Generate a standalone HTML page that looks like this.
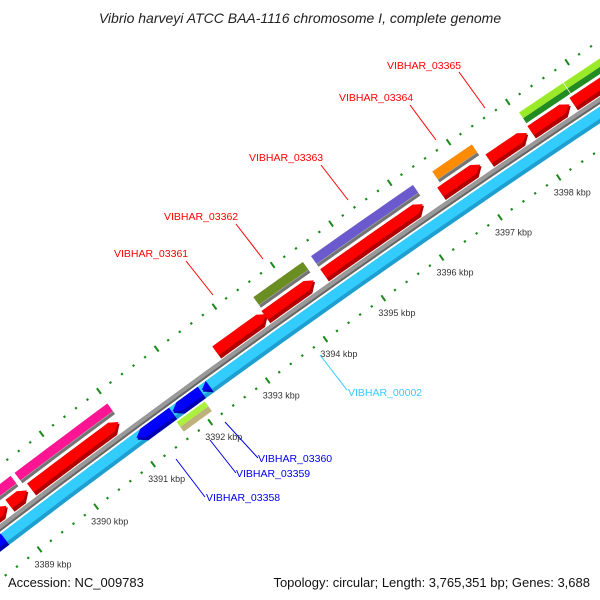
<!DOCTYPE html>
<html><head><meta charset="utf-8"><style>
html,body{margin:0;padding:0;background:#fff;width:600px;height:600px;overflow:hidden;}
svg{display:block;font-family:"Liberation Sans",sans-serif;overflow:hidden;}
</style></head><body>
<svg id="map" width="600" height="600" viewBox="0 0 600 600">
<rect width="600" height="600" fill="#fff"/>
<text x="300" y="23" text-anchor="middle" font-size="14" font-style="italic" fill="#222">Vibrio harveyi ATCC BAA-1116 chromosome I, complete genome</text>
<g id="ticks"></g><g id="bands"></g><g id="labels"></g>
<text x="8" y="587" font-size="13" fill="#111">Accession: NC_009783</text>
<text x="590" y="587" font-size="13" text-anchor="end" fill="#111">Topology: circular; Length: 3,765,351 bp; Genes: 3,688</text>
</svg>
<script>
// ---- data ----
const tickStart = 3388000;
const tickEnd = 3400000;
const tickLabels = ["3389 kbp","3390 kbp","3391 kbp","3392 kbp","3393 kbp","3394 kbp","3395 kbp","3396 kbp","3397 kbp","3398 kbp"];
const tickLabelBp = [3389000,3390000,3391000,3392000,3393000,3394000,3395000,3396000,3397000,3398000];
// forward (red) row
const redStarts = [3387500,3389040,3389420,3392650,3393500,3394510,3396510,3397330,3398040,3398750];
const redEnds   = [3389000,3389360,3390960,3393530,3394345,3396210,3397190,3397980,3398700,3400500];
// outer feature row
const outerStarts = [3387500,3389370,3393520,3394510,3396580];
const outerEnds   = [3389300,3390990,3394370,3396250,3397250];
const outerColors = ["#ff1493","#ff1493","#6b8e23","#6a5acd","#ff8c00"];
const greenStarts = [3398050,3398800];
const greenEnds   = [3398790,3400500];
// reverse (blue) genes on VIBHAR_00002 band
const blueStarts = [3388300,3391030,3391660,3392170];
const blueEnds   = [3388700,3391650,3392150,3392290];
const lowStart = 3391620, lowEnd = 3392110;

// ---- geometry ----
const CX=6967, CY=9671, R0=11495;
function ang(bp){return (-126.15 + (bp-3392000)/1000*0.355)*Math.PI/180;}
function pt(bp,r){const a=ang(bp);return [CX+r*Math.cos(a), CY+r*Math.sin(a)];}
const NS="http://www.w3.org/2000/svg";
function poly(pts){return "M"+pts.map(p=>p[0].toFixed(2)+","+p[1].toFixed(2)).join("L")+"Z";}
function arcPts(b1,b2,r){const n=12,out=[];for(let i=0;i<=n;i++)out.push(pt(b1+(b2-b1)*i/n,r));return out;}
function band(b1,b2,rIn,rOut,head){
  const H=120; const rm=(rIn+rOut)/2;
  let pts=[];
  if(head===1){const e=Math.max(b1,b2-H);
    pts=arcPts(b1,e,rOut).concat([pt(b2,rm)]).concat(arcPts(b1,e,rIn).reverse());}
  else if(head===-1){const s=Math.min(b2,b1+H);
    pts=[pt(b1,rm)].concat(arcPts(s,b2,rOut)).concat(arcPts(s,b2,rIn).reverse());}
  else pts=arcPts(b1,b2,rOut).concat(arcPts(b1,b2,rIn).reverse());
  return poly(pts);
}
function addPath(g,d,fill,name){const p=document.createElementNS(NS,"path");p.setAttribute("d",d);p.setAttribute("fill",fill);
  
  
  g.appendChild(p);return p;}
function shaded(g,b1,b2,rIn,rOut,head,fill,dark,name){
  addPath(g,band(b1,b2,rIn,rOut,head),dark,name);
  addPath(g,band(b1,b2,rIn+(rOut-rIn)*0.28,rOut,head),fill,name+"-face");
}
const bands=document.getElementById("bands"), ticks=document.getElementById("ticks"), labels=document.getElementById("labels");

for(let bp=tickStart;bp<=tickEnd;bp+=200){
  const major=bp%1000===0;
  [R0-41,R0+50].forEach((r,k)=>{
    const len=major?7:2.2;
    const a=pt(bp,r-len/2), b=pt(bp,r+len/2);
    const l=document.createElementNS(NS,"line");
    l.setAttribute("x1",a[0]);l.setAttribute("y1",a[1]);l.setAttribute("x2",b[0]);l.setAttribute("y2",b[1]);
    l.setAttribute("stroke","#1b8a1b");l.setAttribute("stroke-width",major?2:2.2);
    
    
    ticks.appendChild(l);
  });
}
tickLabelBp.forEach((bp,i)=>{
  const p=pt(bp,R0-41);
  const t=document.createElementNS(NS,"text");
  t.setAttribute("x",p[0]-5);t.setAttribute("y",p[1]+18);t.setAttribute("font-size","9");t.setAttribute("fill","#333");
  t.textContent=tickLabels[i];
  
  
  ticks.appendChild(t);
});

addPath(bands,band(3386000,3401000,R0-3,R0+3,0),"#666","backbone");
addPath(bands,band(3386000,3401000,R0-1,R0+3,0),"#999","backbone-face");
shaded(bands,3386000,3401000,R0-19,R0-5,0,"#33ccff","#1f9fcf","vibhar-00002-band");
blueStarts.forEach((s,i)=>shaded(bands,s,blueEnds[i],R0-19,R0-5,-1,"#0000ff","#0000b0","reverse-gene"));
addPath(bands,band(lowStart,lowEnd,R0-33,R0-27,0),"#bdb37a","gene-vibhar-03359");
addPath(bands,band(lowStart,lowEnd,R0-27,R0-21,0),"#aaf03c","gene-vibhar-03360");
redStarts.forEach((s,i)=>shaded(bands,s,redEnds[i],R0+4,R0+19,1,"#ff0000","#b00000","forward-gene"));
outerStarts.forEach((s,i)=>shaded(bands,s,outerEnds[i],R0+22,R0+35,0,outerColors[i],"rgba(0,0,0,0.35)","outer-feature"));
outerStarts.forEach((s,i)=>addPath(bands,band(s,outerEnds[i],R0+22,R0+25,0),"rgba(0,0,0,0.3)","outer-feature-shade"));
greenStarts.forEach((s,i)=>{
  addPath(bands,band(s,greenEnds[i],R0+22,R0+28,0),"#228b22","dark-green-feature");
  addPath(bands,band(s,greenEnds[i],R0+28,R0+35,0),"#9aea2a","light-green-feature");
});

const labelTexts=["VIBHAR_03361","VIBHAR_03362","VIBHAR_03363","VIBHAR_03364","VIBHAR_03365","VIBHAR_00002","VIBHAR_03360","VIBHAR_03359","VIBHAR_03358"];
const labelColors=["#f00","#f00","#f00","#f00","#f00","#33ccff","#0000ee","#0000ee","#0000ee"];
const lab=[[114,257,186,261,213,295],[164,220,236,224,263,259],[249,161,321,165,348,200],[339,101,410,105,436,140],[387,69,459,72,485,108],
 [348,396,347,390,320,355],[258,462,258,458,225,422],[236,477,236,473,210,440],[206,501,205,497,176,459]];
lab.forEach((L,i)=>{
  const ln=document.createElementNS(NS,"line");
  ln.setAttribute("x1",L[2]);ln.setAttribute("y1",L[3]);ln.setAttribute("x2",L[4]);ln.setAttribute("y2",L[5]);
  ln.setAttribute("stroke",labelColors[i]);ln.setAttribute("stroke-width","1");
  
  
  labels.appendChild(ln);
  const t=document.createElementNS(NS,"text");
  t.setAttribute("x",L[0]);t.setAttribute("y",L[1]);t.setAttribute("font-size","10.5");t.setAttribute("fill",labelColors[i]);
  t.textContent=labelTexts[i];
  
  
  labels.appendChild(t);
});
</script>
</body></html>
